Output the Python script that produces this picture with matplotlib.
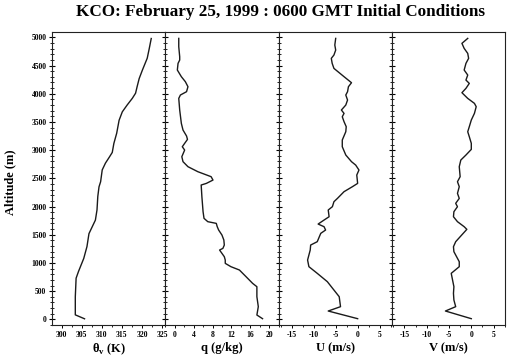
import numpy as np
import matplotlib
matplotlib.use("Agg")
import matplotlib.pyplot as plt
from matplotlib.ticker import MultipleLocator

plt.rcParams["font.family"] = "Liberation Serif"
plt.rcParams["font.weight"] = "bold"
plt.rcParams["axes.unicode_minus"] = False
plt.rcParams["mathtext.fontset"] = "custom"
plt.rcParams["mathtext.bf"] = "Liberation Serif:bold"
plt.rcParams["mathtext.rm"] = "Liberation Serif:bold"

# ---------------------------------------------------------------------------
# Profiles (altitude in m)
# ---------------------------------------------------------------------------
alt_theta = [10, 80, 400, 730, 850, 1080, 1290, 1520, 1640, 1760, 1940, 2180,
             2350, 2440, 2650, 2770, 2880, 2960, 3120, 3300, 3530, 3680, 3800,
             3920, 4010, 4130, 4270, 4420, 4630, 4800, 4980]
theta_v = [305.7, 303.4, 303.4, 303.6, 304.2, 305.5, 306.3, 306.8, 307.6, 308.4,
           308.8, 309.0, 309.3, 309.7, 310.1, 310.9, 311.9, 312.6, 313.0, 313.7,
           314.3, 315.1, 316.3, 317.6, 318.4, 318.8, 319.3, 320.1, 321.3, 321.8,
           322.3]

alt_q = [12, 77, 225, 402, 579, 638, 757, 875, 934, 993, 1052, 1111, 1170, 1229,
         1259, 1318, 1407, 1495, 1584, 1643, 1702, 1732, 1791, 1909, 2175, 2382,
         2411, 2470, 2530, 2618, 2707, 2796, 2884, 3002, 3061, 3121, 3191, 3251,
         3357, 3475, 3712, 3918, 3978, 4037, 4125, 4214, 4303, 4421, 4539, 4598,
         4657, 4835, 4982]
q = [18.6, 17.4, 17.7, 17.4, 17.4, 16.5, 15.1, 13.7, 11.9, 10.7, 10.7, 10.5,
     10.0, 9.5, 10.2, 10.5, 10.4, 10.0, 9.3, 9.0, 8.8, 7.0, 6.2, 6.0, 5.75, 5.6,
     6.7, 8.1, 7.7, 4.9, 2.8, 1.75, 1.5, 2.1, 1.6, 2.1, 2.7, 2.5, 1.75, 1.4,
     1.05, 0.85, 1.2, 2.5, 2.8, 2.25, 1.4, 0.55, 0.7, 1.05, 1.05, 0.85, 0.85]

alt_u = [12, 148, 225, 402, 520, 668, 816, 934, 1052, 1229, 1318, 1377, 1525,
         1584, 1643, 1690, 1761, 1820, 1939, 1998, 2086, 2145, 2264, 2352, 2411,
         2559, 2648, 2736, 2796, 2914, 3061, 3180, 3327, 3416, 3505, 3593, 3652,
         3712, 3800, 3889, 3978, 4037, 4125, 4196, 4303, 4450, 4539, 4628, 4687,
         4775, 4864, 4982]
u = [0.0, -6.7, -3.9, -4.2, -5.4, -6.9, -9.2, -11.1, -11.4, -10.8, -10.7, -9.2,
     -8.4, -7.3, -7.65, -9.0, -7.65, -6.5, -6.7, -5.75, -5.4, -4.6, -3.1, -1.2,
     0.0, -0.2, 0.3, -0.45, -1.4, -2.7, -3.5, -3.5, -2.7, -2.6, -3.1, -3.5,
     -3.1, -3.7, -2.7, -2.3, -2.7, -2.3, -2.1, -1.4, -3.1, -5.4, -5.8, -6.0,
     -5.4, -5.0, -5.2, -5.0]

alt_v = [12, 148, 225, 343, 461, 579, 697, 816, 934, 1022, 1111, 1200, 1288,
         1377, 1478, 1596, 1643, 1732, 1820, 1909, 1998, 2057, 2145, 2234, 2352,
         2441, 2530, 2707, 2825, 2914, 3014, 3121, 3239, 3327, 3416, 3534, 3652,
         3771, 3830, 3918, 4019, 4096, 4184, 4243, 4332, 4421, 4539, 4628, 4716,
         4805, 4894, 4982]
v = [0.0, -5.8, -3.5, -3.9, -4.0, -3.9, -4.2, -4.5, -2.7, -2.7, -3.3, -3.9,
     -4.0, -3.5, -2.35, -1.0, -1.6, -3.1, -4.0, -3.9, -3.1, -3.5, -2.7, -3.1,
     -2.7, -3.1, -2.5, -2.7, -2.35, -1.2, 0.0, 0.0, -0.45, -0.8, -0.45, 0.0,
     0.7, 1.1, 0.7, -0.8, -2.1, -1.2, -0.45, -1.2, -0.8, -1.6, -1.2, -0.6,
     -0.8, -1.6, -2.1, -0.8]

x_labels = [r"θ$_{\mathbf{v}}$ (K)", "q (g/kg)", "U (m/s)", "V (m/s)"]

# ---------------------------------------------------------------------------
# Figure: four side-by-side panels sharing the altitude axis
# ---------------------------------------------------------------------------
fig = plt.figure(figsize=(5.08, 3.6), dpi=100)

x0, w = 52 / 508, 113.3 / 508
b, h = 35 / 360, 292.7 / 360

panels = [
    (theta_v, alt_theta, (297.6, 325.8), 5, 2.5),
    (q, alt_q, (-2, 22), 4, 2),
    (u, alt_u, (-18, 7.8), 5, 2.5),
    (v, alt_v, (-17.8, 7.6), 5, 2.5),
]

for i, (xs, ys, xlim, major, minor) in enumerate(panels):
    ax = fig.add_axes([x0 + i * w, b, w, h])
    ax.plot(xs, ys, color="#1a1a1a", lw=1.0)
    ax.set_xlim(*xlim)
    ax.set_ylim(-100, 5090)
    ax.xaxis.set_major_locator(MultipleLocator(major))
    ax.xaxis.set_minor_locator(MultipleLocator(minor))
    ax.yaxis.set_major_locator(MultipleLocator(500))
    ax.yaxis.set_minor_locator(MultipleLocator(100))
    ax.tick_params(axis="y", which="major", direction="inout", length=5,
                   width=0.8, labelsize=5.5, pad=1.5)
    ax.tick_params(axis="y", which="minor", direction="inout", length=2.5,
                   width=0.6)
    ax.tick_params(axis="x", which="major", direction="out", length=2.5,
                   width=0.7, labelsize=5.5, pad=2)
    ax.tick_params(axis="x", which="minor", direction="out", length=1.5,
                   width=0.6)
    if i > 0:
        ax.tick_params(axis="y", labelleft=False)
    for sp in ax.spines.values():
        sp.set_linewidth(0.8)
        sp.set_color("#222222")
    ax.set_xlabel(x_labels[i], fontsize=9, fontweight="bold", labelpad=2)

fig.text(10 / 508, 1 - 182 / 360, "Altitude (m)", rotation=90, fontsize=9,
         fontweight="bold", ha="center", va="center")
fig.text(280 / 508, 1 - 12 / 360,
         "KCO: February 25, 1999 : 0600 GMT Initial Conditions",
         fontsize=12.3, fontweight="bold", ha="center", va="center")

fig.savefig("out.png", dpi=100)
